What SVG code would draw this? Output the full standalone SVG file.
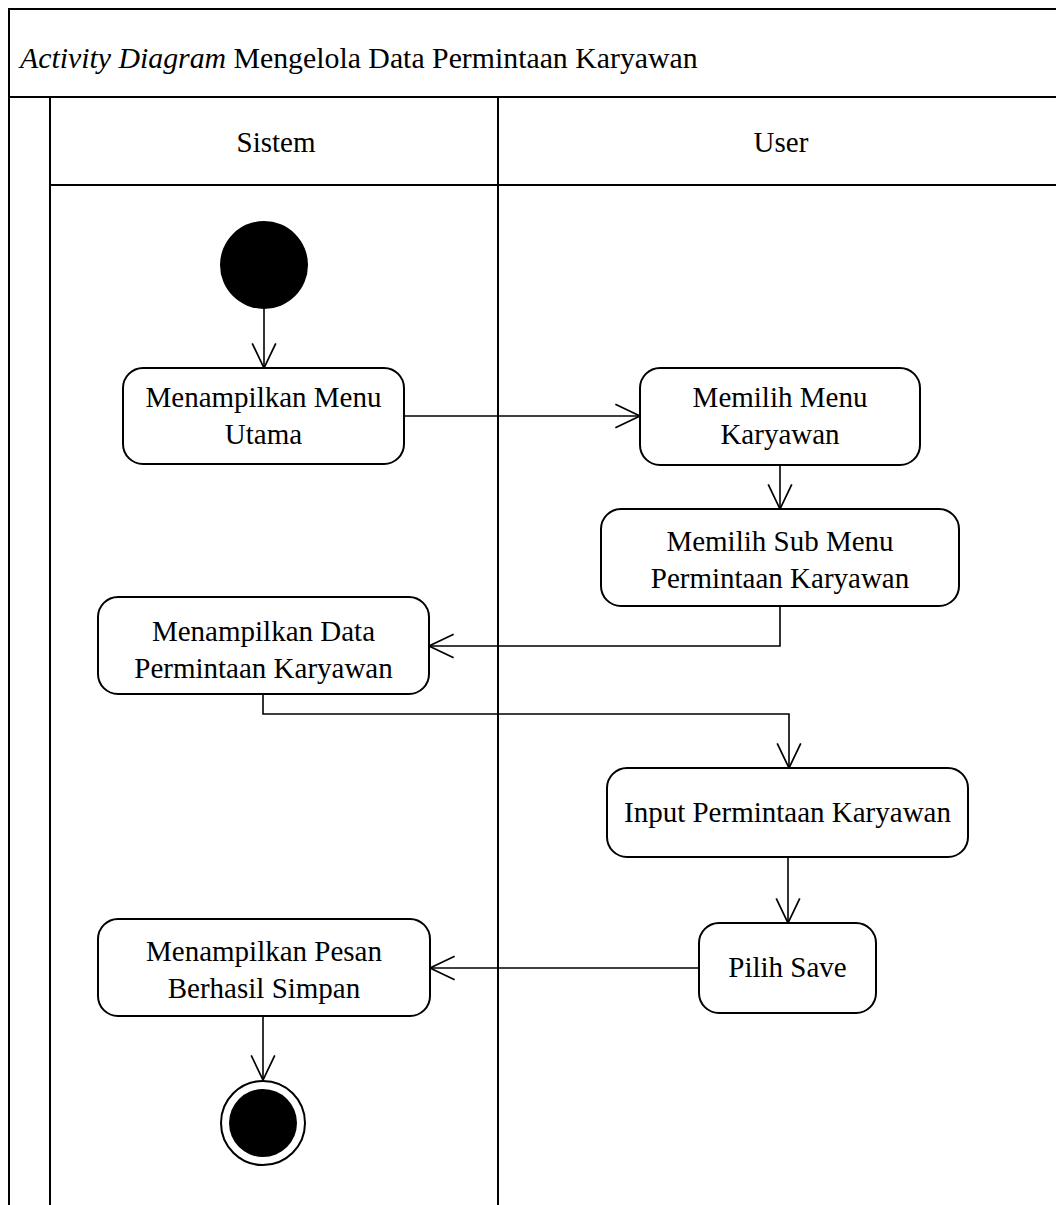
<svg xmlns="http://www.w3.org/2000/svg" width="1056" height="1205" viewBox="0 0 1056 1205">
  <style>
    text { font-family: "Liberation Serif", "Times New Roman", serif; font-size: 29px; fill: #000; }
    .title { font-size: 29.8px; }
    .frame { fill: none; stroke: #000; stroke-width: 2; }
    .act { fill: #fff; stroke: #000; stroke-width: 2; }
    .flow { fill: none; stroke: #000; stroke-width: 1.6; marker-end: url(#open); }
    .c { text-anchor: middle; }
  </style>
  <defs>
    <marker id="open" markerUnits="userSpaceOnUse" markerWidth="30" markerHeight="30" viewBox="-26 -13 28 26" refX="0" refY="0" orient="auto">
      <path d="M-23,-11 L0,0 L-23,11" fill="none" stroke="#000" stroke-width="1.6"/>
    </marker>
  </defs>

  <rect width="1056" height="1205" fill="#fff"/>

  <!-- frame, title band and swimlanes -->
  <g id="frame">
    <path class="frame" d="M9,1205 V9 H1056"/>
    <line class="frame" x1="9" y1="97" x2="1056" y2="97"/>
    <line class="frame" x1="50" y1="97" x2="50" y2="1205"/>
    <line class="frame" x1="50" y1="185" x2="1056" y2="185"/>
    <line class="frame" x1="498" y1="97" x2="498" y2="1205"/>
    <text class="title" x="20" y="68"><tspan font-style="italic">Activity Diagram</tspan> Mengelola Data Permintaan Karyawan</text>
    <text class="c" x="276" y="152">Sistem</text>
    <text class="c" x="781" y="152">User</text>
  </g>

  <!-- connectors -->
  <g id="connectors">
    <path class="flow" d="M264,308 V368"/>
    <path class="flow" d="M404,416 H640"/>
    <path class="flow" d="M780,465 V509"/>
    <path class="flow" d="M780,606 V646 H429"/>
    <path class="flow" d="M263,694 V714 H789 V768"/>
    <path class="flow" d="M788,857 V923"/>
    <path class="flow" d="M699,968 H430"/>
    <path class="flow" d="M263,1016 V1080"/>
  </g>

  <g id="start">
    <circle cx="264" cy="265" r="44" fill="#000"/>
  </g>

  <g id="menu-utama">
    <rect class="act" x="123" y="368" width="281" height="96" rx="20"/>
    <text class="c" x="263.5" y="407">Menampilkan Menu</text>
    <text class="c" x="263.5" y="444">Utama</text>
  </g>

  <g id="pilih-menu-karyawan">
    <rect class="act" x="640" y="368" width="280" height="97" rx="20"/>
    <text class="c" x="780" y="407">Memilih Menu</text>
    <text class="c" x="780" y="444">Karyawan</text>
  </g>

  <g id="pilih-sub-menu">
    <rect class="act" x="601" y="509" width="358" height="97" rx="20"/>
    <text class="c" x="780" y="551">Memilih Sub Menu</text>
    <text class="c" x="780" y="588">Permintaan Karyawan</text>
  </g>

  <g id="tampil-data">
    <rect class="act" x="98" y="597" width="331" height="97" rx="20"/>
    <text class="c" x="263.5" y="641">Menampilkan Data</text>
    <text class="c" x="263.5" y="678">Permintaan Karyawan</text>
  </g>

  <g id="input-permintaan">
    <rect class="act" x="607" y="768" width="361" height="89" rx="20"/>
    <text class="c" x="787.5" y="822">Input Permintaan Karyawan</text>
  </g>

  <g id="pilih-save">
    <rect class="act" x="699" y="923" width="177" height="90" rx="20"/>
    <text class="c" x="787.5" y="977">Pilih Save</text>
  </g>

  <g id="pesan-simpan">
    <rect class="act" x="98" y="919" width="332" height="97" rx="20"/>
    <text class="c" x="264" y="961">Menampilkan Pesan</text>
    <text class="c" x="264" y="998">Berhasil Simpan</text>
  </g>

  <g id="end">
    <circle cx="263" cy="1123" r="42" fill="#fff" stroke="#000" stroke-width="2"/>
    <circle cx="263" cy="1123" r="34" fill="#000"/>
  </g>
</svg>
